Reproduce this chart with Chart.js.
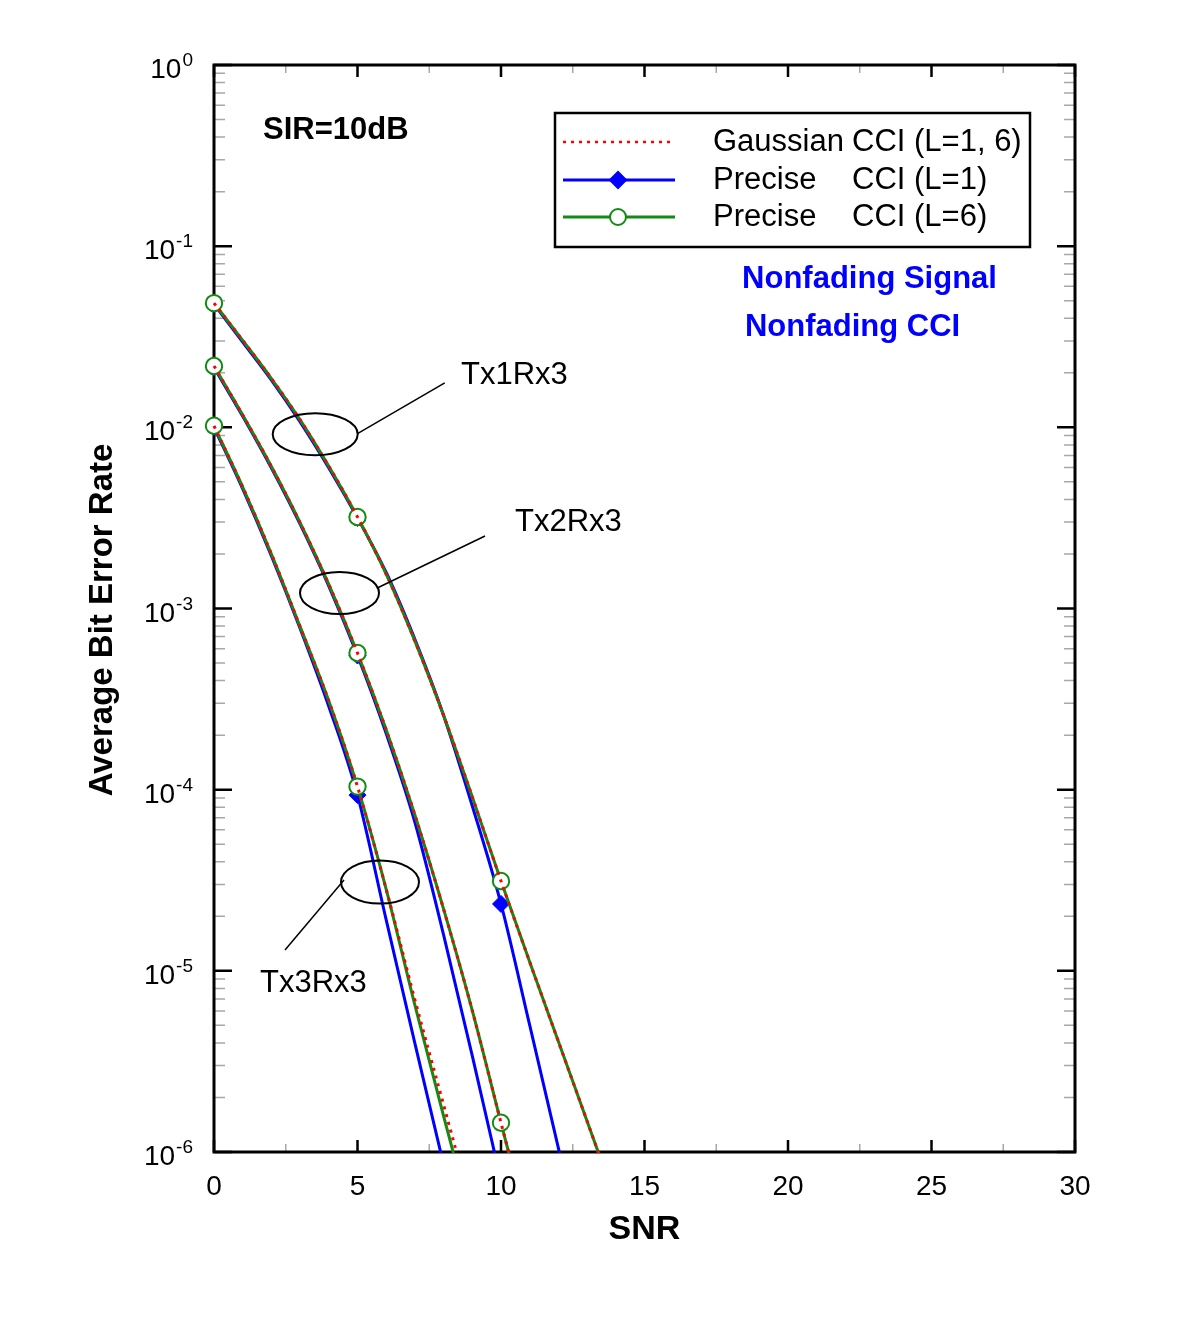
<!DOCTYPE html>
<html>
<head>
<meta charset="utf-8">
<title>Average BER vs SNR, SIR=10dB</title>
<script src="https://cdn.jsdelivr.net/npm/chart.js@4.4.1/dist/chart.umd.min.js"></script>
<style>
  html, body { margin: 0; padding: 0; background: #fff; }
  #wrap { width: 1200px; height: 1321px; }
</style>
</head>
<body>
<div id="wrap"><canvas id="grafico" width="1200" height="1321"></canvas></div>
<script>
// SNR (dB) em que cada curva foi lida
const snrTx1 = [0, 1, 2, 3, 4, 5, 6, 7, 8, 9, 10, 11, 12, 13, 14];
const snrTx2 = [0, 1, 2, 3, 4, 5, 6, 7, 8, 9, 10, 11];
const snrTx3 = [0, 1, 2, 3, 4, 5, 6, 7, 8, 9];

// Gaussian CCI (L=1, 6)
const gaussTx1 = [4.85e-2, 3.02e-2, 1.86e-2, 1.10e-2, 6.10e-3, 3.20e-3, 1.55e-3, 6.61e-4, 2.57e-4, 9.12e-5, 3.13e-5, 1.12e-5, 4.07e-6, 1.48e-6, 5.37e-7];
const gaussTx2 = [2.18e-2, 1.17e-2, 6.08e-3, 2.98e-3, 1.36e-3, 5.68e-4, 2.14e-4, 7.24e-5, 2.19e-5, 6.03e-6, 1.45e-6, 3.55e-7];
const gaussTx3 = [1.02e-2, 4.68e-3, 2.00e-3, 7.94e-4, 3.09e-4, 1.04e-4, 2.82e-5, 6.92e-6, 1.82e-6, 4.79e-7];

// Precise CCI (L=1)
const l1Tx1 = [4.79e-2, 2.95e-2, 1.82e-2, 1.07e-2, 5.96e-3, 3.16e-3, 1.58e-3, 6.76e-4, 2.57e-4, 8.13e-5, 2.34e-5, 5.01e-6, 1.05e-6, 2.19e-7, 4.57e-8];
const l1Tx2 = [2.14e-2, 1.15e-2, 5.96e-3, 2.92e-3, 1.33e-3, 5.50e-4, 2.04e-4, 6.61e-5, 1.58e-5, 3.39e-6, 6.92e-7, 1.41e-7];
const l1Tx3 = [1.00e-2, 4.57e-3, 1.95e-3, 7.76e-4, 2.88e-4, 9.33e-5, 1.91e-5, 3.98e-6, 8.51e-7, 1.82e-7];

// Precise CCI (L=6)
const l6Tx1 = [4.85e-2, 3.02e-2, 1.86e-2, 1.10e-2, 6.10e-3, 3.20e-3, 1.55e-3, 6.61e-4, 2.57e-4, 9.12e-5, 3.13e-5, 1.12e-5, 4.07e-6, 1.48e-6, 5.37e-7];
const l6Tx2 = [2.18e-2, 1.17e-2, 6.08e-3, 2.98e-3, 1.36e-3, 5.68e-4, 2.14e-4, 7.24e-5, 2.19e-5, 6.03e-6, 1.45e-6, 3.55e-7];
const l6Tx3 = [1.02e-2, 4.68e-3, 2.00e-3, 7.94e-4, 3.09e-4, 1.04e-4, 2.82e-5, 6.46e-6, 1.58e-6, 3.98e-7];

// SNR onde aparecem os marcadores
const markerSnr = [0, 5, 10];

// eixos
const xTicks = [0, 5, 10, 15, 20, 25, 30];
const xMinorTicks = [2.5, 7.5, 12.5, 17.5, 22.5, 27.5];
const yExponents = [0, -1, -2, -3, -4, -5, -6];

const FONTE = "'Liberation Sans', Arial, Helvetica, sans-serif";
const AZUL = '#0000ff';
const VERDE = '#138a13';
const VERMELHO = '#ff0000';

// deixa os marcadores em SNR=0 aparecerem por cima do eixo
const RECORTE = { left: 12, top: 2, right: 2, bottom: 1 };

function pontos(snr, valores) {
    return snr.map((s, i) => ({ x: s, y: valores[i] }));
}

function raioMarcador(r) {
    return ctx => (ctx.raw && markerSnr.includes(ctx.raw.x) ? r : 0);
}

function serieL1(snr, valores) {
    return {
        label: 'Precise CCI (L=1)',
        data: pontos(snr, valores),
        borderColor: AZUL,
        backgroundColor: AZUL,
        borderWidth: 3,
        pointStyle: 'rectRot',
        pointRadius: raioMarcador(8.5),
        pointBorderWidth: 1,
        pointBorderColor: AZUL,
        pointBackgroundColor: AZUL,
        clip: RECORTE,
        order: 2
    };
}

function serieL6(snr, valores) {
    return {
        label: 'Precise CCI (L=6)',
        data: pontos(snr, valores),
        borderColor: VERDE,
        backgroundColor: '#ffffff',
        borderWidth: 3,
        pointStyle: 'circle',
        pointRadius: raioMarcador(8.2),
        pointBorderWidth: 2,
        pointBorderColor: VERDE,
        pointBackgroundColor: '#ffffff',
        clip: RECORTE,
        order: 1
    };
}

function serieGauss(snr, valores) {
    return {
        label: 'Gaussian CCI (L=1, 6)',
        data: pontos(snr, valores),
        borderColor: VERMELHO,
        borderWidth: 3,
        borderDash: [3, 5],
        pointRadius: 0,
        clip: RECORTE,
        order: 0
    };
}

function logPx(scale, expoente) {
    return scale.getPixelForValue(Math.pow(10, expoente));
}

// eixos desenhados antes das curvas (marcadores ficam por cima)
const eixos = {
    id: 'eixos',
    beforeDatasetsDraw(chart) {
        const { ctx, chartArea: a, scales: { x, y } } = chart;
        ctx.save();

        // marcas menores (cinza), para dentro
        ctx.strokeStyle = '#a8a8a8';
        ctx.lineWidth = 1.5;
        ctx.beginPath();
        xMinorTicks.forEach(v => {
            const px = x.getPixelForValue(v);
            ctx.moveTo(px, a.bottom); ctx.lineTo(px, a.bottom - 8);
            ctx.moveTo(px, a.top); ctx.lineTo(px, a.top + 8);
        });
        yExponents.forEach(e => {
            if (e === 0) return;
            for (let m = 2; m <= 9; m++) {
                const py = y.getPixelForValue(m * Math.pow(10, e));
                ctx.moveTo(a.left, py); ctx.lineTo(a.left + 11, py);
                ctx.moveTo(a.right, py); ctx.lineTo(a.right - 11, py);
            }
        });
        ctx.stroke();

        // marcas maiores (pretas)
        ctx.strokeStyle = '#000';
        ctx.lineWidth = 2.5;
        ctx.beginPath();
        xTicks.forEach(v => {
            const px = x.getPixelForValue(v);
            ctx.moveTo(px, a.bottom); ctx.lineTo(px, a.bottom - 12);
            ctx.moveTo(px, a.top); ctx.lineTo(px, a.top + 12);
        });
        yExponents.forEach(e => {
            const py = logPx(y, e);
            ctx.moveTo(a.left, py); ctx.lineTo(a.left + 18, py);
            ctx.moveTo(a.right, py); ctx.lineTo(a.right - 18, py);
        });
        ctx.stroke();

        // moldura
        ctx.lineWidth = 3;
        ctx.strokeRect(a.left, a.top, a.right - a.left, a.bottom - a.top);

        // rótulos do eixo y: 10 com expoente
        ctx.fillStyle = '#000';
        ctx.textBaseline = 'alphabetic';
        ctx.textAlign = 'right';
        yExponents.forEach(e => {
            const py = logPx(y, e);
            const sup = String(e);
            ctx.font = `19px ${FONTE}`;
            const wSup = ctx.measureText(sup).width;
            ctx.fillText(sup, a.left - 21, py + 1);
            ctx.font = `28px ${FONTE}`;
            ctx.fillText('10', a.left - 22 - wSup, py + 13);
        });

        // título do eixo y
        ctx.save();
        ctx.translate(103, 620);
        ctx.rotate(-Math.PI / 2);
        ctx.textAlign = 'center';
        ctx.textBaseline = 'middle';
        ctx.font = `bold 33px ${FONTE}`;
        ctx.fillText('Average Bit Error Rate', 0, 0);
        ctx.restore();

        ctx.restore();
    }
};

// textos, anotações e legenda por cima de tudo
const decoracao = {
    id: 'decoracao',
    afterDatasetsDraw(chart) {
        const { ctx, chartArea: a, scales: { x, y } } = chart;
        ctx.save();

        ctx.textAlign = 'left';
        ctx.textBaseline = 'middle';
        ctx.fillStyle = '#000';
        ctx.font = `bold 31px ${FONTE}`;
        ctx.fillText('SIR=10dB', x.getPixelForValue(1.71), logPx(y, -0.359));
        ctx.fillStyle = AZUL;
        ctx.fillText('Nonfading Signal', x.getPixelForValue(18.40), logPx(y, -1.181));
        ctx.fillText('Nonfading CCI', x.getPixelForValue(18.50), logPx(y, -1.446));

        // elipses e chamadas
        const chamadas = [
            { nome: 'Tx1Rx3', cx: 3.526, cy: -2.038, rx: 42.5, ry: 21, de: [5.0, -2.035], ate: [8.04, -1.755], tx: 8.606, ty: -1.711 },
            { nome: 'Tx2Rx3', cx: 4.373, cy: -2.914, rx: 39.5, ry: 21, de: [5.669, -2.888], ate: [9.443, -2.600], tx: 10.488, ty: -2.523 },
            { nome: 'Tx3Rx3', cx: 5.784, cy: -4.510, rx: 39, ry: 21.5, de: [4.53, -4.499], ate: [2.474, -4.885], tx: 1.603, ty: -5.067 }
        ];
        ctx.fillStyle = '#000';
        ctx.strokeStyle = '#000';
        ctx.font = `31px ${FONTE}`;
        chamadas.forEach(c => {
            ctx.lineWidth = 2;
            ctx.beginPath();
            ctx.ellipse(x.getPixelForValue(c.cx), logPx(y, c.cy), c.rx, c.ry, 0, 0, Math.PI * 2);
            ctx.stroke();
            ctx.lineWidth = 1.5;
            ctx.beginPath();
            ctx.moveTo(x.getPixelForValue(c.de[0]), logPx(y, c.de[1]));
            ctx.lineTo(x.getPixelForValue(c.ate[0]), logPx(y, c.ate[1]));
            ctx.stroke();
            ctx.fillText(c.nome, x.getPixelForValue(c.tx), logPx(y, c.ty));
        });

        // legenda
        const lg = { left: a.right - 520, top: a.top + 48, w: 475, h: 134 };
        ctx.fillStyle = '#fff';
        ctx.fillRect(lg.left, lg.top, lg.w, lg.h);
        ctx.lineWidth = 2.5;
        ctx.strokeStyle = '#000';
        ctx.strokeRect(lg.left, lg.top, lg.w, lg.h);

        const linhas = [
            { dy: 29, cor: VERMELHO, larg: 2.5, dash: [3, 5], marca: null, a: 'Gaussian', b: 'CCI (L=1, 6)' },
            { dy: 67, cor: AZUL, larg: 3, dash: [], marca: 'losango', a: 'Precise', b: 'CCI (L=1)' },
            { dy: 104, cor: VERDE, larg: 3, dash: [], marca: 'circulo', a: 'Precise', b: 'CCI (L=6)' }
        ];
        linhas.forEach(l => {
            const py = lg.top + l.dy;
            const x0 = lg.left + 8, x1 = lg.left + 120, xm = lg.left + 63;
            ctx.strokeStyle = l.cor;
            ctx.lineWidth = l.larg;
            ctx.setLineDash(l.dash);
            ctx.beginPath();
            ctx.moveTo(x0, py); ctx.lineTo(x1, py);
            ctx.stroke();
            ctx.setLineDash([]);
            if (l.marca === 'losango') {
                ctx.fillStyle = AZUL;
                ctx.beginPath();
                ctx.moveTo(xm, py - 9.5); ctx.lineTo(xm + 9.5, py);
                ctx.lineTo(xm, py + 9.5); ctx.lineTo(xm - 9.5, py);
                ctx.closePath();
                ctx.fill();
            } else if (l.marca === 'circulo') {
                ctx.fillStyle = '#fff';
                ctx.lineWidth = 2;
                ctx.beginPath();
                ctx.arc(xm, py, 8, 0, Math.PI * 2);
                ctx.fill();
                ctx.stroke();
            }
            ctx.fillStyle = '#000';
            ctx.font = `31px ${FONTE}`;
            ctx.textBaseline = 'middle';
            ctx.fillText(l.a, lg.left + 158, py);
            ctx.fillText(l.b, lg.left + 297, py);
        });

        ctx.restore();
    }
};

Chart.defaults.font.family = FONTE;
Chart.defaults.color = '#000';

new Chart(document.getElementById('grafico'), {
    type: 'line',
    data: {
        datasets: [
            serieGauss(snrTx1, gaussTx1),
            serieGauss(snrTx2, gaussTx2),
            serieGauss(snrTx3, gaussTx3),
            serieL6(snrTx1, l6Tx1),
            serieL6(snrTx2, l6Tx2),
            serieL6(snrTx3, l6Tx3),
            serieL1(snrTx1, l1Tx1),
            serieL1(snrTx2, l1Tx2),
            serieL1(snrTx3, l1Tx3)
        ]
    },
    options: {
        responsive: false,
        animation: false,
        devicePixelRatio: 1,
        layout: { padding: { left: 0, top: 65, right: 125, bottom: 0 } },
        elements: {
            line: { cubicInterpolationMode: 'monotone', capBezierPoints: false, fill: false }
        },
        plugins: {
            legend: { display: false },
            tooltip: { enabled: false }
        },
        scales: {
            x: {
                type: 'linear',
                min: 0,
                max: 30,
                grid: { display: false, drawTicks: false },
                border: { display: false },
                ticks: {
                    stepSize: 5,
                    padding: 18,
                    color: '#000',
                    font: { size: 28 }
                },
                title: {
                    display: true,
                    text: 'SNR',
                    color: '#000',
                    font: { size: 34, weight: 'bold' },
                    padding: { top: 0, bottom: 71 }
                },
                afterFit(scale) { scale.height = 169; }
            },
            y: {
                type: 'logarithmic',
                min: 1e-6,
                max: 1,
                grid: { display: false, drawTicks: false },
                border: { display: false },
                ticks: { display: false },
                afterFit(scale) { scale.width = 214; }
            }
        }
    },
    plugins: [eixos, decoracao]
});
</script>
</body>
</html>
